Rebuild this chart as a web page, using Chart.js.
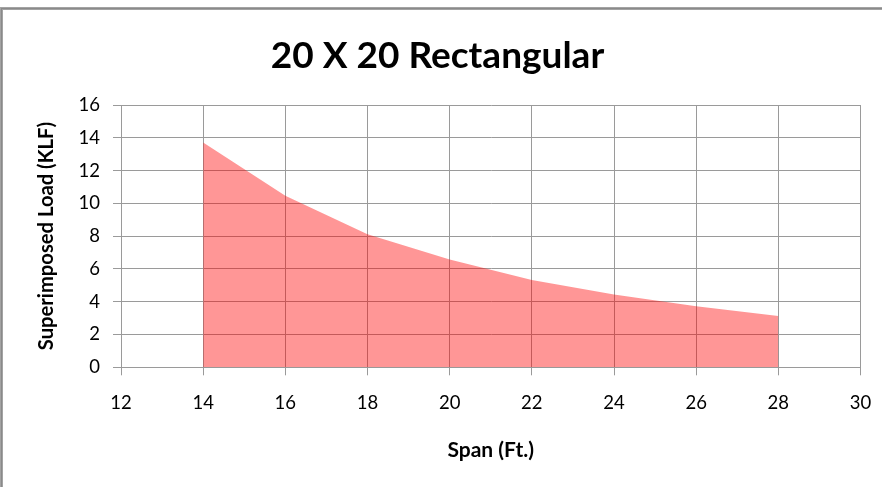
<!DOCTYPE html>
<html>
<head>
<meta charset="utf-8">
<script src="https://cdn.jsdelivr.net/npm/chart.js@4"></script>
<style>
  html, body { margin: 0; padding: 0; background: #ffffff; overflow: hidden; }
  #frame { position: absolute; left: 0; top: 7px; width: 2000px; height: 2000px;
           border: 3px solid #a3a3a3; box-sizing: border-box; }
  #frame2 { position: absolute; left: 1px; top: 8px; width: 2000px; height: 2000px;
           border-left: 1px solid #8a8a8a; border-top: 1px solid #8a8a8a; }
  canvas { position: absolute; left: 0; top: 0; }
</style>
</head>
<body>
<div id="frame"></div>
<div id="frame2"></div>
<canvas id="c" width="882" height="487"></canvas>
<script>
const chartTitle = '20 X 20 Rectangular';
const xAxisTitle = 'Span (Ft.)';
const yAxisTitle = 'Superimposed Load (KLF)';
const spans = [14, 16, 18, 20, 22, 24, 26, 28];
const loads = [13.72, 10.46, 8.12, 6.57, 5.33, 4.44, 3.72, 3.13];
const xTicks = [12, 14, 16, 18, 20, 22, 24, 26, 28, 30];
const yTicks = [0, 2, 4, 6, 8, 10, 12, 14, 16];

const points = spans.map((s, i) => ({ x: s, y: loads[i] }));
const FONT = 'Lato, "Open Sans", sans-serif';

new Chart(document.getElementById('c'), {
  type: 'line',
  data: {
    datasets: [{
      data: points,
      fill: 'origin',
      backgroundColor: 'rgba(255, 0, 0, 0.41)',
      borderWidth: 0,
      borderColor: 'rgba(0,0,0,0)',
      pointRadius: 0,
      tension: 0
    }]
  },
  options: {
    responsive: false,
    animation: false,
    events: [],
    layout: { padding: { left: 0, right: 7, top: 0, bottom: 0 } },
    plugins: {
      legend: { display: false },
      tooltip: { enabled: false },
      title: {
        display: true,
        text: chartTitle,
        color: '#000000',
        font: { family: FONT, size: 37, weight: 'bold', lineHeight: 1.2 },
        padding: { top: 34, bottom: 26.6 }
      }
    },
    scales: {
      x: {
        type: 'linear',
        min: xTicks[0],
        max: xTicks[xTicks.length - 1],
        afterBuildTicks: (s) => { s.ticks = xTicks.map(v => ({ value: v })); },
        afterFit: (s) => { s.height = 119.7; s.paddingLeft = 0; s.paddingRight = 21.5; },
        grid: { color: '#9a9a9a', lineWidth: 1, tickLength: 8, drawTicks: true },
        border: { color: '#9a9a9a', width: 1 },
        ticks: { color: '#000000', padding: 17, maxRotation: 0,
                 font: { family: FONT, size: 18.5, lineHeight: 1.2 } },
        title: {
          display: true, text: xAxisTitle, color: '#000000',
          font: { family: FONT, size: 21, weight: 'bold', lineHeight: 1.2 },
          padding: { top: 0, bottom: 24.4 }
        }
      },
      y: {
        type: 'linear',
        min: yTicks[0],
        max: yTicks[yTicks.length - 1],
        afterBuildTicks: (s) => { s.ticks = yTicks.map(v => ({ value: v })); },
        afterFit: (s) => { s.width = 121; },
        grid: { color: '#9a9a9a', lineWidth: 1, tickLength: 8, drawTicks: true },
        border: { color: '#9a9a9a', width: 1 },
        ticks: { color: '#000000', padding: 13,
                 font: { family: FONT, size: 18.5, lineHeight: 1.2 } },
        title: {
          display: true, text: yAxisTitle, color: '#000000',
          font: { family: FONT, size: 20.2, weight: 'bold', lineHeight: 1.2 },
          padding: { top: 34.4, bottom: 0 }
        }
      }
    }
  }
});
</script>
</body>
</html>
